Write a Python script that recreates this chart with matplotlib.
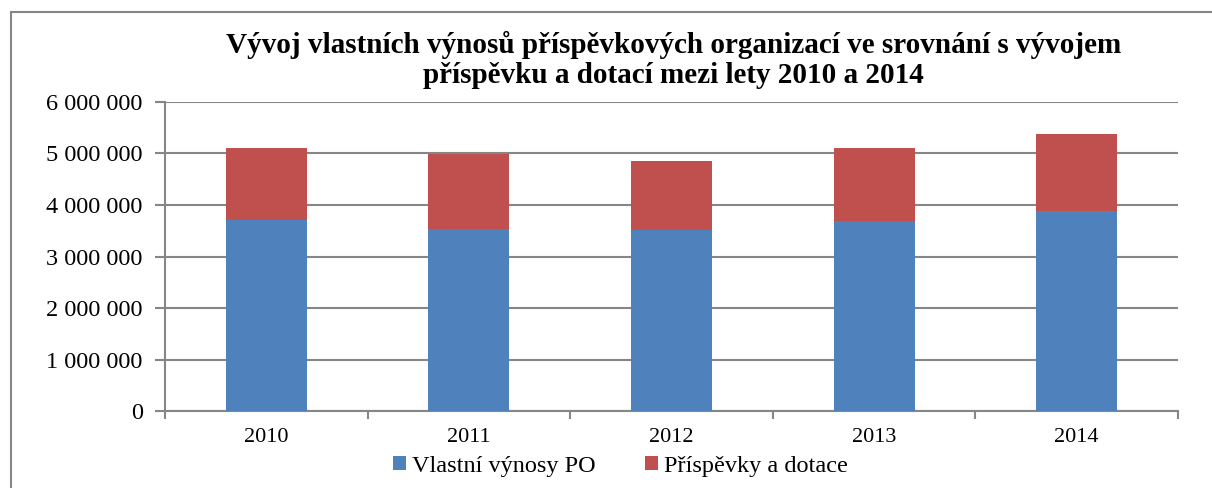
import matplotlib.pyplot as plt
from matplotlib.patches import Rectangle
from matplotlib.ticker import FuncFormatter

years = ["2010", "2011", "2012", "2013", "2014"]
vlastni_vynosy = [3710000, 3540000, 3510000, 3680000, 3880000]
prispevky = [1400000, 1440000, 1340000, 1420000, 1490000]

blue = "#4F81BD"
red = "#C0504D"
grey = "#868686"

fig = plt.figure(figsize=(12.12, 4.88), dpi=100)
ax = fig.add_axes([0.1361, 0.1568, 0.8358, 0.6348])

# outer chart border (cut off at right and bottom like the reference)
fig.patches.append(Rectangle((11 / 1212, -0.1), 1.2, 476 / 488 + 0.1,
                             transform=fig.transFigure, fill=False,
                             edgecolor=grey, linewidth=1.5))

x = range(len(years))
ax.bar(x, vlastni_vynosy, width=0.4, color=blue, label="Vlastní výnosy PO", zorder=3)
ax.bar(x, prispevky, width=0.4, bottom=vlastni_vynosy, color=red,
       label="Příspěvky a dotace", zorder=3)

ax.set_xlim(-0.5, 4.5)
ax.set_ylim(0, 6000000)
ax.set_yticks(range(0, 6000001, 1000000))
ax.yaxis.set_major_formatter(FuncFormatter(lambda v, p: f"{int(v):,}".replace(",", " ")))
ax.set_xticks(list(x))
ax.set_xticklabels(years)
ax.set_xticks([i - 0.5 for i in range(6)], minor=True)
ax.tick_params(axis="x", which="major", length=0, pad=12)
ax.tick_params(axis="x", which="minor", length=6, color=grey, width=1.5)
ax.tick_params(axis="y", length=7, color=grey, width=1.5, pad=9)
for lab in ax.get_xticklabels():
    lab.set_fontfamily("Liberation Serif")
    lab.set_fontsize(16)
for lab in ax.get_yticklabels():
    lab.set_fontfamily("Liberation Serif")
    lab.set_fontsize(17.5)

ax.grid(axis="y", color=grey, linewidth=1.5, zorder=0)
for side in ["top", "right"]:
    ax.spines[side].set_visible(False)
for side in ["left", "bottom"]:
    ax.spines[side].set_color(grey)
    ax.spines[side].set_linewidth(1.5)

fig.text(0.556, 0.877,
         "Vývoj vlastních výnosů příspěvkových organizací ve srovnání s vývojem\n"
         "příspěvku a dotací mezi lety 2010 a 2014",
         ha="center", va="center", fontfamily="Liberation Serif",
         fontweight="bold", fontsize=21, linespacing=1.12)

fig.legend(loc="center", bbox_to_anchor=(0.512, 0.045), ncol=2, frameon=False,
           prop={"family": "Liberation Serif", "size": 17.5},
           handlelength=0.55, handleheight=0.55, handletextpad=0.25, columnspacing=2.0)

fig.savefig("out.png", dpi=100)
